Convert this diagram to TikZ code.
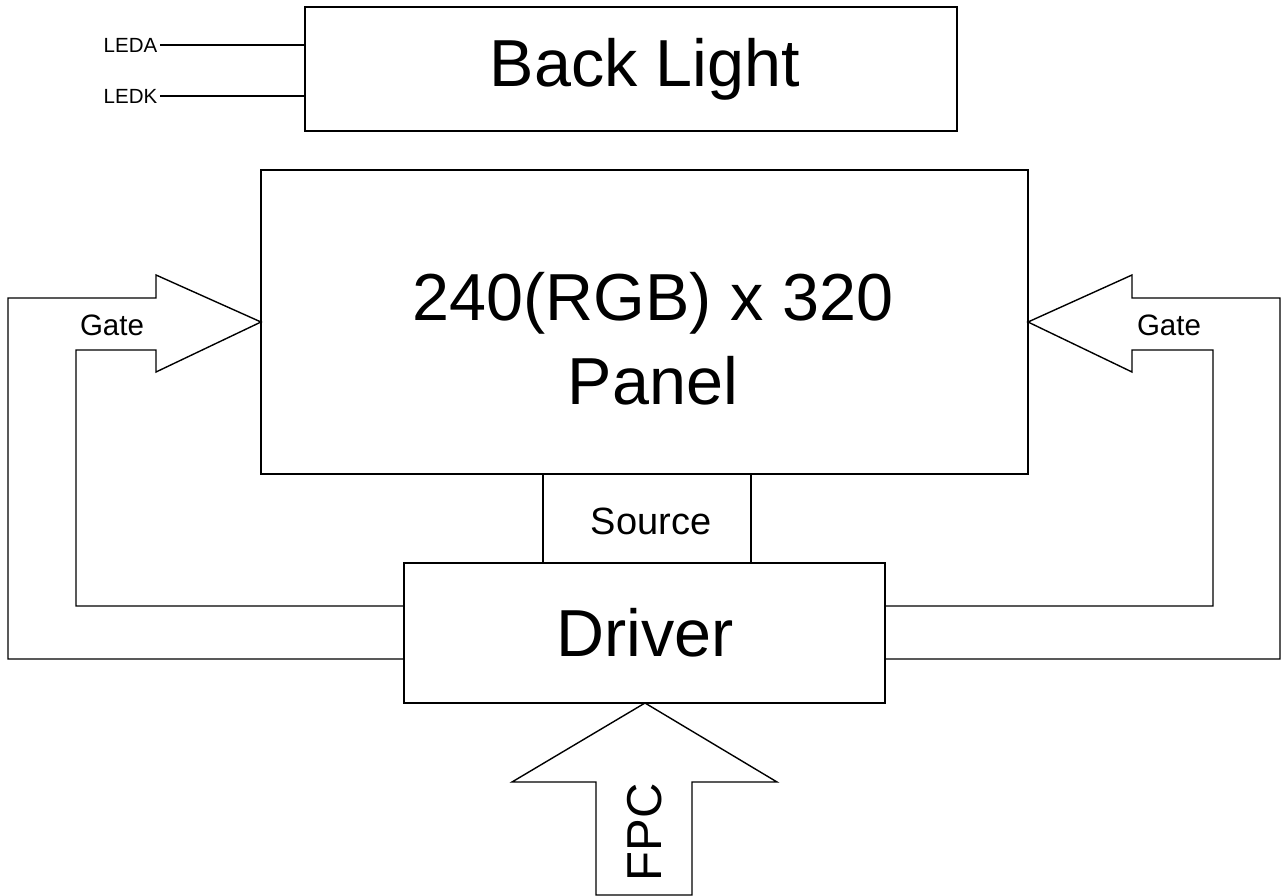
\documentclass[tikz,border=0pt]{standalone}
\usepackage{fontspec}
\setmainfont{Liberation Sans}
\usepackage{tikz}

\begin{document}
\begin{tikzpicture}[x=1pt,y=-1pt,line width=1.4pt]
    \tikzset{box/.style={draw, rectangle, inner sep=0pt},
      bigtext/.style={font=\fontsize{66.5}{84}\selectfont, align=center, inner sep=0pt},
      midtext/.style={font=\fontsize{38}{44}\selectfont, inner sep=0pt},
      gatetext/.style={font=\fontsize{29.5}{34}\selectfont, inner sep=0pt},
      ledtext/.style={font=\fontsize{20.5}{24}\selectfont, inner sep=2pt, anchor=east}};
  \useasboundingbox (0,0) rectangle (1282,896);
%%
  \node (backlight) at (631,69) [box, minimum width=652pt, minimum height=124pt] {};
  \node (panel) at (644.5,322) [box, minimum width=767pt, minimum height=304pt] {};
  \node (source) at (647,518.5) [box, minimum width=208pt, minimum height=89pt] {};
  \node (driver) at (644.5,633) [box, minimum width=481pt, minimum height=140pt] {};
  \node (bltext) at (645,69) [bigtext] {Back Light};
  \node (paneltext) at (653,339) [bigtext] {240(RGB) x 320\\Panel};
  \node (srctext) at (651,521) [midtext] {Source};
  \node (drvtext) at (645,633) [bigtext] {Driver};
  \node (leda) at (160,45) [ledtext] {LEDA};
  \node (ledk) at (160,96) [ledtext] {LEDK};
  \node (gatel) at (112,325) [gatetext] {Gate};
  \node (gater) at (1169,325) [gatetext] {Gate};
  \node (fpc) at (645,832) [gatetext, font=\fontsize{49}{56}\selectfont, rotate=90] {FPC};
  \coordinate (ledaend) at (305,45);
  \coordinate (ledkend) at (305,96);

  \draw [] (leda.east) -- (ledaend);
  \draw [] (ledk.east) -- (ledkend);
  % gate arrows
  \draw [] (404,659) -- (8,659) -- (8,298) -- (156,298) -- (156,275) -- (261,322)
    -- (156,372) -- (156,350) -- (76,350) -- (76,606) -- (404,606);
  \draw [] (885,659) -- (1280,659) -- (1280,298) -- (1132,298) -- (1132,275) -- (1028,322)
    -- (1132,372) -- (1132,350) -- (1213,350) -- (1213,606) -- (885,606);
  % fpc arrow
  \draw [] (645,703) -- (777,782) -- (692,782) -- (692,895) -- (596,895) -- (596,782)
    -- (512,782) -- cycle;
\end{tikzpicture}
\end{document}
